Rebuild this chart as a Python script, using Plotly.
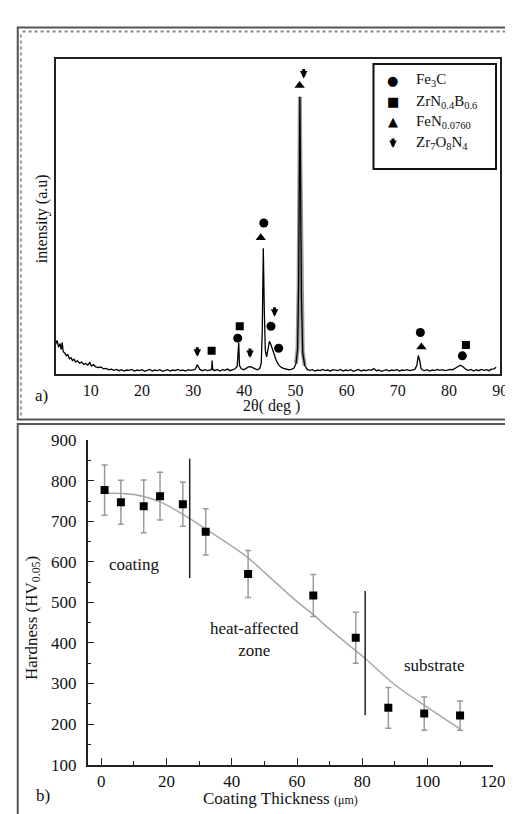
import plotly.graph_objects as go

W, H = 513, 814
SERIF = "Liberation Serif"

# ---------------- panel a) XRD pattern ----------------
two_theta = [3.1, 3.4, 3.7, 4.0, 4.2, 4.4, 4.6, 4.9, 5.2, 5.5, 5.8, 6.1, 6.4, 6.7, 7.0, 7.4, 7.8, 8.2, 8.6, 9.0,
             9.4, 9.8, 10.1, 10.5, 11.0, 11.5, 12.0, 12.5, 13.0, 13.5, 14.0, 14.5, 15.0, 15.5, 16.0, 16.5, 17.0,
             17.5, 18.0, 18.5, 19.0, 19.5, 20.0, 20.5, 21.0, 21.5, 22.0, 22.5, 23.0, 23.5, 24.0, 24.5, 25.0,
             25.5, 26.0, 26.5, 27.0, 27.5, 28.0, 28.5, 29.0, 29.5, 30.0, 30.3, 30.6, 30.8, 31.0, 31.3, 31.8,
             32.3, 32.8, 33.3, 33.6, 33.7, 33.8, 34.2, 34.7, 35.2, 35.7, 36.2, 36.7, 37.2, 37.7, 38.2, 38.6,
             38.9, 39.05, 39.4, 39.9, 40.4, 40.8, 41.2, 41.6, 42.0, 42.5, 43.0, 43.3, 43.5, 43.7, 43.9, 44.1,
             44.35, 44.6, 44.9, 45.2, 45.5, 45.8, 46.2, 46.6, 47.0, 47.5, 48.0, 48.6, 49.2, 49.7, 50.1, 50.4,
             50.6, 50.75, 50.85, 50.95, 51.15, 51.4, 51.8, 52.3, 52.8, 53.3, 53.8, 54.3, 54.8, 55.3, 55.8,
             56.3, 56.8, 57.3, 57.8, 58.3, 58.8, 59.3, 59.8, 60.3, 60.8, 61.3, 61.8, 62.3, 62.8, 63.3, 63.8,
             64.3, 64.8, 65.3, 65.8, 66.3, 66.8, 67.3, 67.8, 68.3, 68.8, 69.3, 69.8, 70.3, 70.8, 71.3, 71.8,
             72.3, 72.8, 73.3, 73.7, 74.0, 74.3, 74.5, 74.8, 75.2, 75.7, 76.2, 76.7, 77.2, 77.7, 78.2, 78.7,
             79.2, 79.7, 80.2, 80.7, 81.2, 81.7, 82.2, 82.6, 83.0, 83.4, 83.8, 84.3, 84.8, 85.3, 85.8, 86.3,
             86.8, 87.3, 87.8, 88.3, 88.8, 89.2, 89.6]
intensity = [9.5, 10.8, 8.6, 9.8, 7.9, 10.2, 7.2, 6.8, 5.9, 6.3, 5.0, 5.3, 4.4, 4.8, 4.0, 4.3, 3.6, 3.9, 3.2, 3.5,
             3.0, 3.8, 2.7, 3.1, 2.4, 2.2, 2.3, 1.8, 1.9, 1.5, 1.7, 1.3, 1.6, 1.2, 1.5, 1.1, 1.4,
             1.3, 1.6, 1.1, 1.4, 1.2, 1.5, 1.0, 1.3, 1.6, 1.1, 1.4, 1.2, 1.5, 1.0, 1.3, 1.5,
             1.1, 1.4, 1.2, 1.6, 1.2, 1.4, 1.1, 1.5, 1.3, 1.4, 1.5, 2.3, 3.1, 2.5, 1.6, 1.2,
             1.5, 1.2, 1.4, 1.5, 4.4, 1.6, 1.2, 1.6, 1.1, 1.5, 1.3, 1.7, 1.2, 1.5, 1.8, 2.6,
             10.0, 2.8, 1.8, 1.5, 2.0, 2.4, 2.5, 2.2, 1.8, 1.5, 1.9, 3.5, 14.0, 40.0, 20.0, 7.5,
             5.6, 7.6, 10.5, 9.4, 7.8, 6.4, 4.6, 3.3, 2.5, 2.0, 1.7, 1.5, 1.6, 2.0, 3.5, 8.0,
             28.0, 70.0, 88.0, 68.0, 25.0, 7.0, 2.8, 1.6, 1.3, 1.5, 1.1, 1.4, 1.2, 1.6, 1.2,
             1.4, 1.1, 1.5, 1.3, 1.2, 1.6, 1.1, 1.4, 1.2, 1.5, 1.0, 1.3, 1.6, 1.1, 1.4,
             1.2, 1.5, 1.3, 1.9, 1.2, 1.4, 1.0, 1.3, 1.5, 1.1, 1.4, 1.2, 1.6, 1.1, 1.4, 1.3,
             1.5, 1.2, 1.4, 1.6, 2.8, 6.0, 4.2, 2.0, 1.4, 1.2, 1.5, 1.1, 1.4, 1.2, 1.6, 1.3,
             1.5, 1.2, 1.4, 1.6, 1.5, 1.9, 2.5, 2.9, 2.6, 2.0, 1.5, 1.3, 1.6, 1.1, 1.5, 1.2,
             1.6, 1.3, 1.5, 1.2, 1.7, 1.8, 2.3]

xrd_ticks = [10, 20, 30, 40, 50, 60, 70, 80, 90]

# phase markers (2theta, height)
fe3c_x = [38.7, 43.8, 45.2, 46.7, 74.4, 82.6]
fe3c_y = [11.5, 48.0, 15.3, 8.3, 13.3, 5.9]
zrnb_x = [33.6, 39.1, 83.3]
zrnb_y = [7.5, 15.3, 9.3]
fen_x = [43.2, 50.8, 74.6]
fen_y = [43.3, 91.6, 8.7]
zron_x = [30.8, 41.1, 45.9, 51.6]
zron_y = [7.2, 6.8, 19.9, 95.4]

legend_labels = ["Fe<sub>3</sub>C", "ZrN<sub>0.4</sub>B<sub>0.6</sub>",
                 "FeN<sub>0.0760</sub>", "Zr<sub>7</sub>O<sub>8</sub>N<sub>4</sub>"]
legend_symbols = ["circle", "square", "triangle-up", "arrow"]

# ---------------- panel b) hardness profile ----------------
depth = [1, 6, 13, 18, 25, 32, 45, 65, 78, 88, 99, 110]
hardness = [777, 747, 737, 762, 742, 674, 570, 517, 413, 240, 226, 221]
hard_err = [62, 54, 65, 59, 54, 57, 58, 52, 63, 50, 41, 36]

fit_x = [1, 10, 18, 27, 32, 40, 45, 50, 60, 65, 70, 78, 81, 90, 100, 110]
fit_y = [770, 766, 748, 707, 681, 639, 610, 574, 502, 470, 434, 381, 361, 297, 241, 188]

zone_lines = [(27.1, 560, 854), (80.9, 222, 528)]
zone_labels = [(10.2, 594, "coating"), (47, 408, "heat-affected<br>zone"), (102, 344, "substrate")]


def px_x(p):
    return p / W


def px_y(p):
    return 1 - p / H


def down_arrow(xref, yref, x, y):
    # thick down arrow centred on (x, y): short stem + filled head
    return dict(xref=xref, yref=yref, x=x, y=y, ax=0, ay=-11, text="", showarrow=True,
                arrowhead=2, arrowsize=0.5, arrowwidth=3.0, arrowcolor="black", standoff=0,
                yshift=-5)


fig = go.Figure()

main_idx = [i for i, t in enumerate(two_theta) if 49.9 <= t <= 51.9]
fig.add_trace(go.Scatter(x=[two_theta[i] for i in main_idx], y=[intensity[i] for i in main_idx],
                         mode="lines", line=dict(color="#9a9a9a", width=4), hoverinfo="skip",
                         xaxis="x", yaxis="y", showlegend=False))
fig.add_trace(go.Scatter(x=two_theta, y=intensity, mode="lines", line=dict(color="black", width=1.3),
                         xaxis="x", yaxis="y", showlegend=False))
fig.add_trace(go.Scatter(x=fe3c_x, y=fe3c_y, mode="markers", marker=dict(symbol="circle", size=9, color="black"),
                         xaxis="x", yaxis="y", showlegend=False))
fig.add_trace(go.Scatter(x=zrnb_x, y=zrnb_y, mode="markers", marker=dict(symbol="square", size=8, color="black"),
                         xaxis="x", yaxis="y", showlegend=False))
fig.add_trace(go.Scatter(x=fen_x, y=fen_y, mode="markers",
                         marker=dict(symbol="triangle-up", size=9, color="black"),
                         xaxis="x", yaxis="y", showlegend=False))

# Hardness
fig.add_trace(go.Scatter(x=fit_x, y=fit_y, mode="lines", line=dict(color="#a8a8a8", width=1.5, shape="spline"),
                         xaxis="x2", yaxis="y2", showlegend=False))
fig.add_trace(go.Scatter(x=depth, y=hardness, mode="markers",
                         marker=dict(symbol="square", size=8, color="black"),
                         error_y=dict(type="data", array=hard_err, color="#9a9a9a", thickness=1.5, width=3),
                         xaxis="x2", yaxis="y2", showlegend=False))
for xv, y0, y1 in zone_lines:
    fig.add_trace(go.Scatter(x=[xv, xv], y=[y0, y1], mode="lines", line=dict(color="#222", width=1.5),
                             xaxis="x2", yaxis="y2", showlegend=False))

font_tick = dict(family=SERIF, size=16, color="#111")

fig.update_layout(
    width=W, height=H, margin=dict(l=0, r=0, t=0, b=0),
    paper_bgcolor="white", plot_bgcolor="white",
    font=dict(family=SERIF, size=16, color="#111"),
    xaxis=dict(domain=[px_x(49), px_x(505)], range=[3.14, 90.0], tickvals=xrd_ticks,
               showgrid=False, zeroline=False, showline=True, linecolor="#222", linewidth=2, mirror=True,
               ticks="", tickfont=font_tick, anchor="y"),
    yaxis=dict(domain=[px_y(366), px_y(43)], range=[0, 100], showticklabels=False, ticks="",
               showgrid=False, zeroline=False, showline=True, linecolor="#222", linewidth=2, mirror=True,
               anchor="x"),
    xaxis2=dict(domain=[px_x(81.7), px_x(497.3)], range=[-4.2, 120], tickvals=[0, 20, 40, 60, 80, 100, 120],
                showgrid=False, zeroline=False, showline=True, linecolor="#222", linewidth=1.5,
                ticks="inside", ticklen=7, tickwidth=1.2, tickcolor="#222",
                minor=dict(tickvals=[10, 30, 50, 70, 90, 110], ticks="inside", ticklen=4, tickcolor="#222"),
                tickfont=dict(family=SERIF, size=17, color="#111"), anchor="y2"),
    yaxis2=dict(domain=[px_y(765.5), px_y(433.3)], range=[100, 900],
                tickvals=[100, 200, 300, 400, 500, 600, 700, 800, 900],
                showgrid=False, zeroline=False, showline=True, linecolor="#222", linewidth=1.5,
                ticks="inside", ticklen=7, tickwidth=1.2, tickcolor="#222", ticklabelstandoff=6,
                minor=dict(tickvals=[150, 250, 350, 450, 550, 650, 750, 850], ticks="inside", ticklen=4,
                           tickcolor="#222"),
                tickfont=dict(family=SERIF, size=17, color="#111"), anchor="x2"),
)

shapes = []
shapes.append(dict(type="rect", xref="paper", yref="paper", x0=px_x(10), x1=px_x(530), y0=px_y(412),
                   y1=px_y(10.7), line=dict(color="#555", width=2)))
shapes.append(dict(type="rect", xref="paper", yref="paper", x0=px_x(10), x1=px_x(530), y0=px_y(840),
                   y1=px_y(416.7), line=dict(color="#555", width=2)))
shapes.append(dict(type="line", xref="paper", yref="paper", x0=px_x(15), x1=px_x(513), y0=px_y(14.8),
                   y1=px_y(14.8), line=dict(color="#888", width=2, dash="dot")))
shapes.append(dict(type="line", xref="paper", yref="paper", x0=px_x(13.2), x1=px_x(13.2), y0=px_y(408),
                   y1=px_y(17), line=dict(color="#999", width=2, dash="dot")))
shapes.append(dict(type="rect", xref="paper", yref="paper", x0=px_x(375), x1=px_x(500.7), y0=px_y(155.7),
                   y1=px_y(48), line=dict(color="#111", width=2)))
fig.update_layout(shapes=shapes)

ann = []
for xv, yv in zip(zron_x, zron_y):
    ann.append(down_arrow("x", "y", xv, yv))

legend_rows = [65, 87, 107, 129]
glyph = {"circle": "\u25CF", "square": "\u25A0", "triangle-up": "\u25B2"}
for row, sym, lab in zip(legend_rows, legend_symbols, legend_labels):
    if sym == "arrow":
        ann.append(down_arrow("paper", "paper", px_x(395), px_y(row)))
    else:
        ann.append(dict(xref="paper", yref="paper", x=px_x(395), y=px_y(row), text=glyph[sym], showarrow=False,
                        font=dict(family="DejaVu Sans", size=13, color="black"), xanchor="center",
                        yanchor="middle"))
    ann.append(dict(xref="paper", yref="paper", x=px_x(417), y=px_y(row), text=lab, showarrow=False,
                    font=dict(family=SERIF, size=15, color="#111"), xanchor="left", yanchor="middle"))

ann.append(dict(xref="paper", yref="paper", x=px_x(35), y=px_y(207), text="intensity (a.u)", textangle=-90,
                showarrow=False, font=dict(family=SERIF, size=16, color="#111"), xanchor="center",
                yanchor="middle"))
ann.append(dict(xref="paper", yref="paper", x=px_x(270), y=px_y(398), text="2\u03b8( deg )", showarrow=False,
                font=dict(family=SERIF, size=16, color="#111"), xanchor="center", yanchor="middle"))
ann.append(dict(xref="paper", yref="paper", x=px_x(34), y=px_y(388), text="a)", showarrow=False,
                font=dict(family=SERIF, size=17, color="#111"), xanchor="center", yanchor="middle"))
ann.append(dict(xref="paper", yref="paper", x=px_x(36), y=px_y(797), text="b)", showarrow=False,
                font=dict(family=SERIF, size=17, color="#111"), xanchor="center", yanchor="middle"))
ann.append(dict(xref="paper", yref="paper", x=px_x(25), y=px_y(615),
                text="Hardness (HV<sub>0.05</sub>)", textangle=-90, showarrow=False,
                font=dict(family=SERIF, size=17, color="#111"), xanchor="center", yanchor="middle"))
ann.append(dict(xref="paper", yref="paper", x=px_x(280), y=px_y(800),
                text="Coating Thickness <span style='font-size:12px'>(\u03bcm)</span>", showarrow=False,
                font=dict(family=SERIF, size=17, color="#111"), xanchor="center", yanchor="middle"))
for xv, yv, t in zone_labels:
    ann.append(dict(xref="x2", yref="y2", x=xv, y=yv, text=t, showarrow=False,
                    font=dict(family=SERIF, size=17, color="#111"), xanchor="center", yanchor="middle"))
fig.update_layout(annotations=ann)

fig.write_html("out.html")
